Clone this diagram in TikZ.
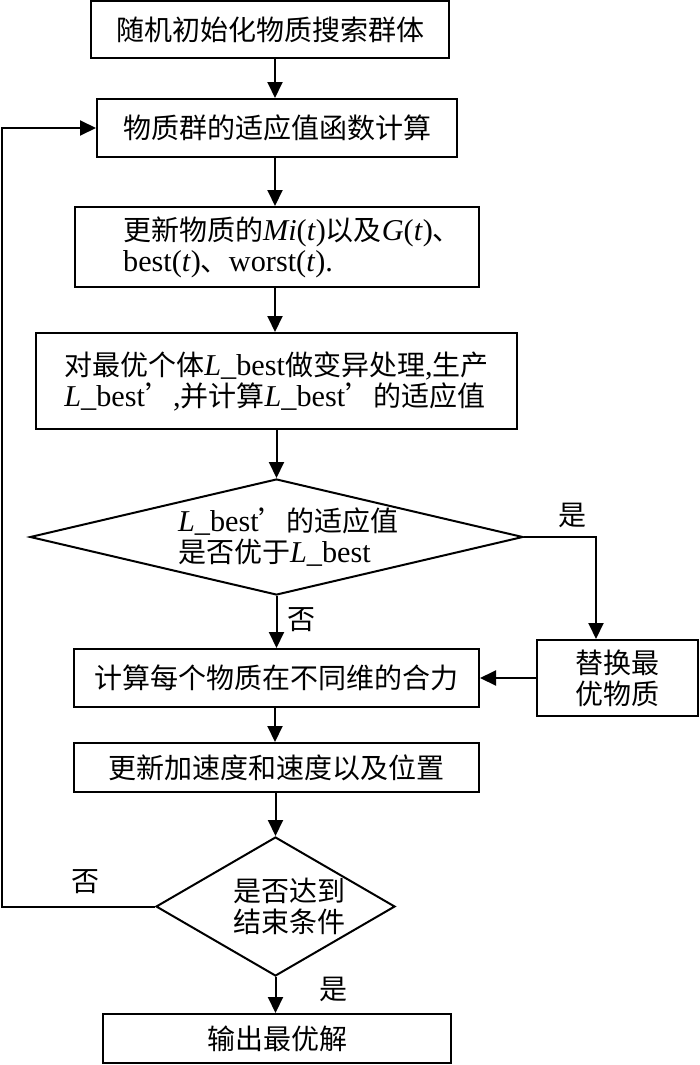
\documentclass[tikz,border=0pt]{standalone}
\usepackage{fontspec}
\setmainfont{Noto Sans CJK SC}
\newfontfamily\tnr[Scale=1.08]{Liberation Serif}
\usetikzlibrary{arrows.meta,shapes.geometric}
\newcommand\LBst{{\tnr\textit{L}\_best}}
\newcommand\sh[2]{\kern#1pt #2\kern-#1pt }
\begin{document}
\begin{tikzpicture}[x=1pt,y=-1pt,line width=2pt,
  txt/.style={font=\fontsize{28}{31}\selectfont},
  box/.style={draw,rectangle,inner sep=0pt,txt,align=center},
  dec/.style={draw,diamond,inner sep=0pt,txt,align=left},
  arr/.style={-{Triangle[length=16pt,width=15pt]}},
  lab/.style={txt,inner sep=0pt}]
\useasboundingbox (0,0) rectangle (700,1065);
\coordinate (ax) at (275,0);
\coordinate (yx) at (596,0);
\coordinate (fx) at (2,0);
\node[box,minimum width=358pt,minimum height=57pt] (b1) at (270,30) {随机初始化物质搜索群体};
\node[box,minimum width=360pt,minimum height=58pt] (b2) at (277,128) {物质群的适应值函数计算};
\node[box,align=left,minimum width=404pt,minimum height=80pt] (b3) at (277,247) {\sh{15}{更新物质的{\tnr\textit{Mi}(\textit{t})}以及{\tnr\textit{G}(\textit{t})}、}\\\sh{15}{{\tnr best(\textit{t})}、{\tnr worst(\textit{t}).}}};
\node[box,align=left,minimum width=481pt,minimum height=96pt] (b4) at (276.5,381) {对最优个体\LBst 做变异处理{\tnr,}生产\\\LBst’{\tnr,}并计算\LBst’的适应值};
\node[dec,aspect=4.25,minimum width=493pt,minimum height=116pt] (d1) at (276.5,537) {\sh{12}{\LBst’的适应值}\\\sh{12}{是否优于\LBst}};
\node[box,minimum width=405pt,minimum height=58pt] (b5) at (276.5,678) {计算每个物质在不同维的合力};
\node[box,minimum width=161pt,minimum height=76pt] (r) at (617.5,678) {替换最\\优物质};
\node[box,minimum width=405pt,minimum height=49pt] (b6) at (276.5,767.5) {更新加速度和速度以及位置};
\node[dec,aspect=1.72,minimum width=239pt,minimum height=139pt] (d2) at (275.5,906.5) {\sh{14}{是否达到}\\\sh{14}{结束条件}};
\node[box,minimum width=348pt,minimum height=49pt] (b7) at (277,1038.5) {输出最优解};
\draw[arr] (b1.south -| ax) -- (b2.north -| ax);
\draw[arr] (b2.south -| ax) -- (b3.north -| ax);
\draw[arr] (b3.south -| ax) -- (b4.north -| ax);
\draw[arr] (b4.south -| d1.north) -- (d1.north);
\draw[arr] (d1.south) -- (b5.north -| d1.south);
\draw[arr] (d1.east) -- (d1.east -| yx) -- (r.north -| yx);
\draw[arr] (r.west) -- (b5.east);
\draw[arr] (b5.south -| ax) -- (b6.north -| ax);
\draw[arr] (b6.south -| d2.north) -- (d2.north);
\draw[arr] (d2.south) -- (b7.north -| d2.south);
\draw[arr] (d2.west) -- (d2.west -| fx) -- (b2.west -| fx) -- (b2.west);
\node[lab] (l1) at (572,515) {是};
\node[lab] (l2) at (301,620) {否};
\node[lab] (l3) at (85,882) {否};
\node[lab] (l4) at (333,989) {是};
\end{tikzpicture}
\end{document}
